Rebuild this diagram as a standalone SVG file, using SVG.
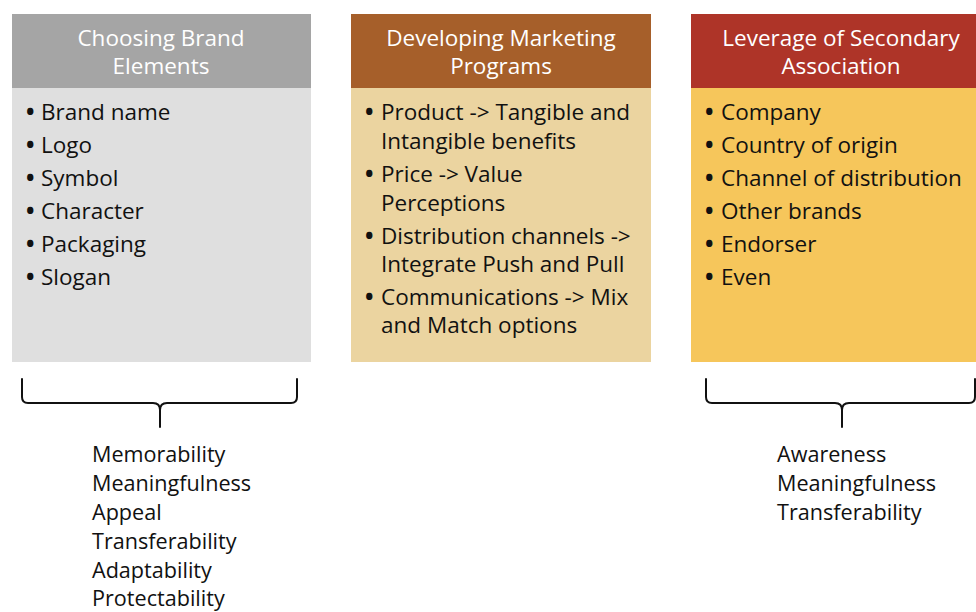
<svg xmlns="http://www.w3.org/2000/svg" width="976" height="612" viewBox="0 0 976 612">
  <style>
    text { font-family: "Open Sans", "Liberation Sans", sans-serif; font-size: 22.5px; fill: #111; }
    .head { fill: #ffffff; text-anchor: middle; }
    .dot { font-weight: 700; }
    .crit { font-size: 21.6px; }
    .brace { fill: none; stroke: #111; stroke-width: 2; stroke-linecap: round; stroke-linejoin: round; }
  </style>
  <rect width="976" height="612" fill="#ffffff"/>

  <!-- Column 1: brand elements -->
  <g id="brand-elements">
    <rect x="12" y="88" width="299" height="274" fill="#dfdfdf"/>
    <rect x="12" y="14" width="299" height="74" fill="#a5a5a5"/>
    <text class="head" x="161" y="46">Choosing Brand</text>
    <text class="head" x="161" y="74">Elements</text>
    <text x="26" y="120"><tspan class="dot">•</tspan><tspan x="41">Brand name</tspan></text>
    <text x="26" y="153"><tspan class="dot">•</tspan><tspan x="41">Logo</tspan></text>
    <text x="26" y="186"><tspan class="dot">•</tspan><tspan x="41">Symbol</tspan></text>
    <text x="26" y="219"><tspan class="dot">•</tspan><tspan x="41">Character</tspan></text>
    <text x="26" y="252"><tspan class="dot">•</tspan><tspan x="41">Packaging</tspan></text>
    <text x="26" y="285"><tspan class="dot">•</tspan><tspan x="41">Slogan</tspan></text>
  </g>

  <!-- Column 2: marketing programs -->
  <g id="marketing-programs">
    <rect x="351" y="88" width="300" height="274" fill="#ebd4a0"/>
    <rect x="351" y="14" width="300" height="74" fill="#a65f2a"/>
    <text class="head" x="501" y="46">Developing Marketing</text>
    <text class="head" x="501" y="74">Programs</text>
    <text x="365" y="120"><tspan class="dot">•</tspan><tspan x="381">Product -&gt; Tangible and</tspan><tspan x="381" y="149">Intangible benefits</tspan></text>
    <text x="365" y="182"><tspan class="dot">•</tspan><tspan x="381">Price -&gt; Value</tspan><tspan x="381" y="211">Perceptions</tspan></text>
    <text x="365" y="244"><tspan class="dot">•</tspan><tspan x="381">Distribution channels -&gt;</tspan><tspan x="381" y="272">Integrate Push and Pull</tspan></text>
    <text x="365" y="305"><tspan class="dot">•</tspan><tspan x="381">Communications -&gt; Mix</tspan><tspan x="381" y="333">and Match options</tspan></text>
  </g>

  <!-- Column 3: secondary associations -->
  <g id="secondary-associations">
    <rect x="691" y="88" width="300" height="274" fill="#f6c65b"/>
    <rect x="691" y="14" width="300" height="74" fill="#ae3428"/>
    <text class="head" x="841" y="46">Leverage of Secondary</text>
    <text class="head" x="841" y="74">Association</text>
    <text x="705" y="120"><tspan class="dot">•</tspan><tspan x="721">Company</tspan></text>
    <text x="705" y="153"><tspan class="dot">•</tspan><tspan x="721">Country of origin</tspan></text>
    <text x="705" y="186"><tspan class="dot">•</tspan><tspan x="721">Channel of distribution</tspan></text>
    <text x="705" y="219"><tspan class="dot">•</tspan><tspan x="721">Other brands</tspan></text>
    <text x="705" y="252"><tspan class="dot">•</tspan><tspan x="721">Endorser</tspan></text>
    <text x="705" y="285"><tspan class="dot">•</tspan><tspan x="721">Even</tspan></text>
  </g>

  <!-- Braces -->
  <g id="connectors">
    <path class="brace" d="M22,379 L22,397 Q22,403 28,403 L153,403 Q160,403 160,410 L160,427 M160,410 Q160,403 167,403 L291,403 Q297,403 297,397 L297,379"/>
    <path class="brace" d="M706,379 L706,397 Q706,403 712,403 L835,403 Q842,403 842,410 L842,427 M842,410 Q842,403 849,403 L969,403 Q975,403 975,397 L975,379"/>
  </g>

  <!-- Criteria -->
  <g id="brand-criteria">
    <text class="crit" x="92" y="462">Memorability</text>
    <text class="crit" x="92" y="491">Meaningfulness</text>
    <text class="crit" x="92" y="520">Appeal</text>
    <text class="crit" x="92" y="549">Transferability</text>
    <text class="crit" x="92" y="578">Adaptability</text>
    <text class="crit" x="92" y="606">Protectability</text>
  </g>
  <g id="association-criteria">
    <text class="crit" x="777" y="462">Awareness</text>
    <text class="crit" x="777" y="491">Meaningfulness</text>
    <text class="crit" x="777" y="520">Transferability</text>
  </g>
</svg>
